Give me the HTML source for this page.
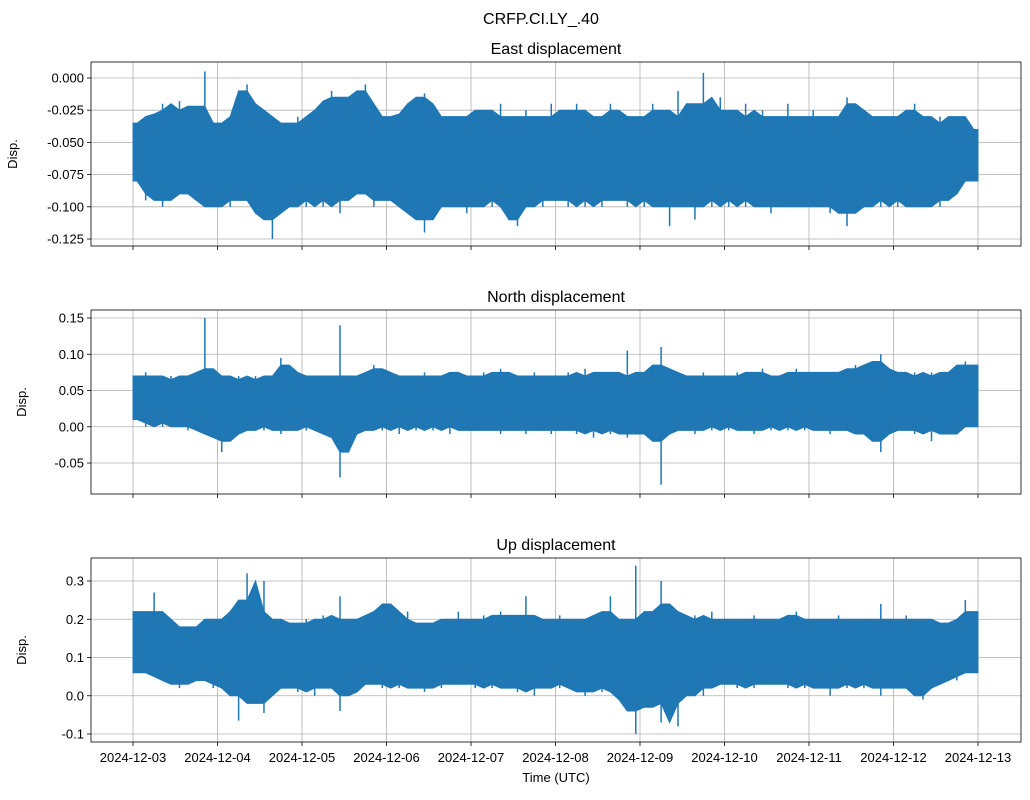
<!DOCTYPE html>
<html><head><meta charset="utf-8"><style>
body{margin:0;background:#fff;}
svg text{font-family:"Liberation Sans","DejaVu Sans",sans-serif;fill:#000;}
</style></head><body>
<svg id="chart" width="1030" height="795" xmlns="http://www.w3.org/2000/svg">
<rect width="1030" height="795" fill="#fff"/>
<text x="541" y="24" font-size="16" text-anchor="middle">CRFP.CI.LY_.40</text>
</svg>
<script>
const dayLabels=["2024-12-03","2024-12-04","2024-12-05","2024-12-06","2024-12-07","2024-12-08","2024-12-09","2024-12-10","2024-12-11","2024-12-12","2024-12-13"];
const eastTicks=[0,-0.025,-0.05,-0.075,-0.1,-0.125];
const northTicks=[0.15,0.1,0.05,0,-0.05];
const upTicks=[0.3,0.2,0.1,0,-0.1];
const eastMax=[-0.035,-0.03,-0.028,-0.02,-0.025,-0.018,-0.03,-0.022,0.005,-0.04,
-0.035,-0.03,-0.01,-0.005,-0.02,-0.025,-0.03,-0.035,-0.04,-0.03,
-0.035,-0.025,-0.018,-0.01,-0.015,-0.03,-0.01,-0.005,-0.02,-0.03,
-0.03,-0.028,-0.02,-0.015,-0.012,-0.02,-0.03,-0.035,-0.03,-0.03,
-0.025,-0.025,-0.03,-0.02,-0.03,-0.035,-0.025,-0.03,-0.035,-0.02,
-0.03,-0.025,-0.02,-0.025,-0.035,-0.03,-0.02,-0.025,-0.03,-0.035,
-0.03,-0.02,-0.025,-0.04,-0.01,-0.03,-0.02,0.004,-0.03,-0.015,
-0.025,-0.035,-0.02,-0.03,-0.025,-0.03,-0.035,-0.02,-0.03,-0.03,
-0.025,-0.03,-0.035,-0.03,-0.015,-0.02,-0.025,-0.03,-0.035,-0.03,
-0.03,-0.025,-0.02,-0.03,-0.035,-0.03,-0.045,-0.03,-0.03,-0.04];
const eastMin=[-0.08,-0.095,-0.09,-0.1,-0.095,-0.09,-0.09,-0.095,-0.1,-0.1,
-0.09,-0.1,-0.095,-0.09,-0.105,-0.11,-0.125,-0.105,-0.1,-0.095,
-0.1,-0.09,-0.1,-0.095,-0.105,-0.095,-0.09,-0.09,-0.1,-0.095,
-0.09,-0.1,-0.105,-0.11,-0.12,-0.11,-0.1,-0.095,-0.1,-0.105,
-0.1,-0.095,-0.1,-0.09,-0.11,-0.115,-0.1,-0.095,-0.1,-0.09,
-0.095,-0.1,-0.09,-0.1,-0.095,-0.1,-0.095,-0.09,-0.1,-0.095,
-0.1,-0.095,-0.1,-0.115,-0.09,-0.1,-0.11,-0.095,-0.1,-0.095,
-0.1,-0.095,-0.1,-0.09,-0.1,-0.105,-0.1,-0.095,-0.1,-0.1,
-0.095,-0.1,-0.105,-0.1,-0.115,-0.105,-0.1,-0.095,-0.1,-0.095,
-0.1,-0.095,-0.1,-0.1,-0.095,-0.1,-0.095,-0.09,-0.08,-0.08];
const northMax=[0.07,0.075,0.07,0.065,0.07,0.065,0.07,0.075,0.15,0.08,
0.07,0.065,0.07,0.065,0.07,0.065,0.07,0.095,0.085,0.075,
0.07,0.065,0.07,0.07,0.14,0.07,0.065,0.075,0.085,0.08,
0.075,0.07,0.065,0.07,0.075,0.07,0.07,0.075,0.075,0.07,
0.07,0.075,0.07,0.08,0.075,0.07,0.07,0.075,0.07,0.07,
0.07,0.075,0.07,0.08,0.07,0.075,0.075,0.07,0.105,0.07,
0.075,0.085,0.11,0.08,0.075,0.07,0.07,0.075,0.07,0.07,
0.07,0.075,0.07,0.075,0.08,0.07,0.07,0.075,0.08,0.075,
0.07,0.075,0.075,0.07,0.08,0.085,0.08,0.09,0.1,0.08,
0.075,0.07,0.075,0.07,0.075,0.07,0.075,0.085,0.09,0.085];
const northMin=[0.01,0.0,0.005,0.0,0.005,0.0,-0.005,0.0,-0.01,-0.015,
-0.035,-0.02,-0.01,-0.005,0.0,-0.005,0.0,-0.01,-0.005,0.0,
-0.005,0.0,-0.01,-0.015,-0.07,-0.035,-0.01,-0.005,0.0,-0.005,
0.0,-0.01,0.0,-0.005,0.0,-0.005,0.0,-0.01,0.0,-0.005,
-0.005,0.0,-0.005,-0.01,0.0,-0.005,-0.01,0.0,-0.005,-0.01,
-0.005,0.0,-0.01,-0.005,-0.015,-0.005,-0.01,-0.005,-0.015,-0.01,
-0.01,-0.02,-0.08,-0.01,0.0,-0.005,-0.01,0.0,-0.005,0.0,
-0.005,0.0,-0.005,-0.01,0.0,-0.005,0.0,-0.005,0.0,-0.005,
0.0,-0.005,-0.01,0.0,-0.005,-0.01,-0.01,-0.02,-0.035,-0.01,
-0.005,0.0,-0.01,-0.005,-0.02,-0.005,-0.01,-0.01,0.0,0.0];
const upMax=[0.22,0.2,0.27,0.22,0.2,0.18,0.17,0.18,0.2,0.2,
0.2,0.22,0.25,0.32,0.22,0.3,0.2,0.2,0.19,0.18,
0.2,0.19,0.21,0.2,0.26,0.2,0.2,0.21,0.22,0.24,
0.24,0.2,0.22,0.19,0.18,0.19,0.2,0.2,0.22,0.2,
0.2,0.21,0.2,0.22,0.21,0.2,0.26,0.21,0.2,0.2,
0.21,0.2,0.19,0.2,0.21,0.22,0.26,0.2,0.2,0.34,
0.2,0.22,0.3,0.24,0.22,0.2,0.21,0.2,0.22,0.2,
0.2,0.19,0.2,0.21,0.2,0.2,0.2,0.21,0.22,0.2,
0.19,0.2,0.2,0.21,0.2,0.2,0.2,0.2,0.24,0.2,
0.2,0.21,0.19,0.2,0.2,0.18,0.19,0.2,0.25,0.22];
const upMin=[0.06,0.07,0.05,0.04,0.03,0.02,0.03,0.04,0.05,0.02,
0.03,0.0,-0.065,0.02,-0.02,-0.045,0.0,0.02,0.03,0.01,
0.02,0.0,0.03,0.02,-0.04,0.0,0.01,0.03,0.04,0.02,
0.03,0.02,0.03,0.02,0.01,0.03,0.02,0.03,0.04,0.03,
0.02,0.03,0.02,0.03,0.02,0.01,0.02,0.0,0.02,0.03,
0.02,0.03,0.01,0.0,0.02,0.01,0.02,-0.01,-0.04,-0.1,
-0.03,0.0,-0.07,-0.02,-0.08,0.0,0.02,0.0,0.02,0.03,
0.03,0.02,0.03,0.02,0.03,0.04,0.03,0.02,0.03,0.02,
0.03,0.02,0.0,0.03,0.02,0.03,0.02,0.03,0.0,0.02,
0.02,0.03,0.0,-0.01,0.02,0.03,0.05,0.04,0.07,0.06];

const svg=document.getElementById('chart');
const NS='http://www.w3.org/2000/svg';
function mk(tag,attrs,parent){const e=document.createElementNS(NS,tag);for(const k in attrs)e.setAttribute(k,attrs[k]);(parent||svg).appendChild(e);return e;}
const L=91,R=1021;
const xs=t=>133+t*84.5;
function median3(a,i){const s=[a[Math.max(0,i-1)],a[i],a[Math.min(a.length-1,i+1)]].sort((p,q)=>p-q);return s[1];}
const panels=[
 {name:'east',title:'East displacement',top:62,bot:246,v0:0,y0:78,v1:-0.125,y1:239,ticks:eastTicks,fmt:v=>v.toFixed(3),maxA:eastMax,minA:eastMin,ylx:17,labels:false},
 {name:'north',title:'North displacement',top:310,bot:494,v0:0.15,y0:318,v1:-0.05,y1:463,ticks:northTicks,fmt:v=>v.toFixed(2),maxA:northMax,minA:northMin,ylx:26,labels:false},
 {name:'up',title:'Up displacement',top:558,bot:742,v0:0.3,y0:581,v1:-0.1,y1:734,ticks:upTicks,fmt:v=>v.toFixed(1),maxA:upMax,minA:upMin,ylx:26,labels:true}
];
panels.forEach(p=>{
 const ys=v=>p.y0+(v-p.v0)*(p.y1-p.y0)/(p.v1-p.v0);
 const g=mk('g',{});
 
 
 const t=mk('text',{x:556,y:p.top-8,'font-size':16,'text-anchor':'middle'},g);
 t.textContent=p.title;
 
 
 dayLabels.forEach((d,i)=>{
  const x=xs(i);
  const gl=mk('line',{x1:x,x2:x,y1:p.top,y2:p.bot,stroke:'#b0b0b0','stroke-width':0.8},g);
  
  
  mk('line',{x1:x,x2:x,y1:p.bot,y2:p.bot+4,stroke:'#000','stroke-width':0.8},g);
  if(p.labels){
   const tl=mk('text',{x:x,y:p.bot+20,'font-size':13,'text-anchor':'middle'},g);
   tl.textContent=d;
   
   
  }
 });
 p.ticks.forEach(v=>{
  const y=ys(v);
  const gl=mk('line',{x1:L,x2:R,y1:y,y2:y,stroke:'#b0b0b0','stroke-width':0.8},g);
  
  
  mk('line',{x1:L-4,x2:L,y1:y,y2:y,stroke:'#000','stroke-width':0.8},g);
  const tl=mk('text',{x:L-7,y:y+4.5,'font-size':13,'text-anchor':'end'},g);
  tl.textContent=p.fmt(v);
  
  
 });
 const n=p.maxA.length;
 let pts=[];
 pts.push(xs(0).toFixed(1)+','+ys(median3(p.maxA,0)).toFixed(1));
 for(let i=0;i<n;i++)pts.push(xs(i*0.1+0.05).toFixed(1)+','+ys(median3(p.maxA,i)).toFixed(1));
 pts.push(xs(n*0.1).toFixed(1)+','+ys(median3(p.maxA,n-1)).toFixed(1));
 pts.push(xs(n*0.1).toFixed(1)+','+ys(median3(p.minA,n-1)).toFixed(1));
 for(let i=n-1;i>=0;i--)pts.push(xs(i*0.1+0.05).toFixed(1)+','+ys(median3(p.minA,i)).toFixed(1));
 pts.push(xs(0).toFixed(1)+','+ys(median3(p.minA,0)).toFixed(1));
 const band=mk('polygon',{points:pts.join(' '),fill:'#1f77b4',stroke:'#1f77b4','stroke-width':1},g);
 
 
 for(let i=0;i<n;i++){
  const x=xs(i*0.1+0.05);
  const sp=mk('line',{x1:x,x2:x,y1:ys(p.maxA[i]),y2:ys(p.minA[i]),stroke:'#1f77b4','stroke-width':1.5},g);
  
  
 }
 const fr=mk('rect',{x:L,y:p.top,width:R-L,height:p.bot-p.top,fill:'none',stroke:'#000','stroke-width':0.8},g);
 
 
 const yl=mk('text',{x:p.ylx,y:(p.top+p.bot)/2,'font-size':13,'text-anchor':'middle',transform:'rotate(-90 '+p.ylx+' '+(p.top+p.bot)/2+')'},g);
 yl.textContent='Disp.';
 
 
});
const xt=mk('text',{x:556,y:782,'font-size':13,'text-anchor':'middle'});
xt.textContent='Time (UTC)';


</script>
</body></html>
